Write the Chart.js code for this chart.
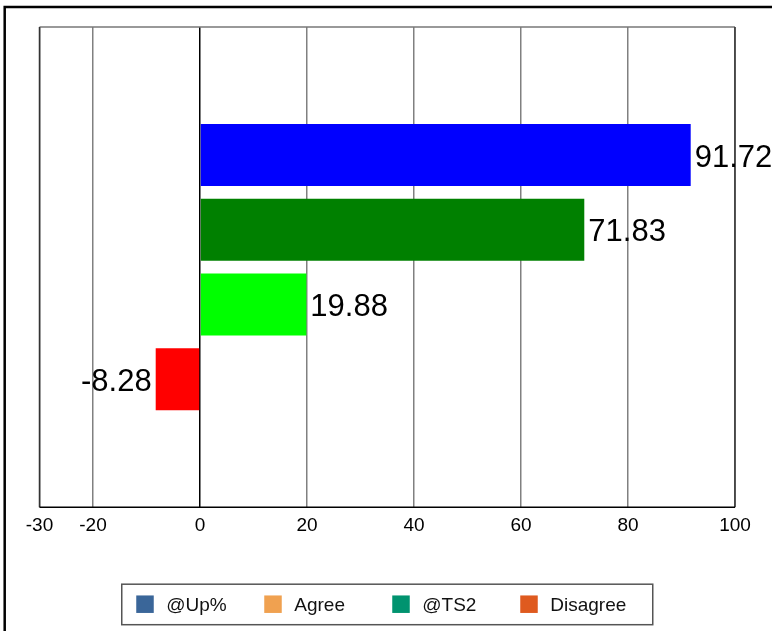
<!DOCTYPE html>
<html>
<head>
<meta charset="utf-8">
<script src="https://cdn.jsdelivr.net/npm/chart.js@4.4.1/dist/chart.umd.min.js"></script>
<style>
  body { margin: 0; background: #fff; }
  #wrap { width: 772px; height: 631px; position: relative; }
</style>
</head>
<body>
<div id="wrap"><canvas id="barChart" width="772" height="631"></canvas></div>
<script>
const categories   = [''];
const seriesNames  = ['@Up%', 'Agree', '@TS2', 'Disagree'];
const seriesValues = [91.72, 71.83, 19.88, -8.28];
const barColors    = ['#0000FF', '#008000', '#00FF00', '#FF0000'];
const legendColors = ['#3A6699', '#F0A150', '#00936F', '#DF5A1F'];
const xTicks       = [-30, -20, 0, 20, 40, 60, 80, 100];

const FONT = "Liberation Sans, Arial, sans-serif";

// outer frame + plot box
const framePlugin = {
    id: 'frame',
    beforeDraw(chart) {
        const ctx = chart.ctx;
        ctx.save();
        ctx.fillStyle = '#fff';
        ctx.fillRect(0, 0, chart.width, chart.height);
        ctx.strokeStyle = '#000';
        ctx.lineWidth = 2.5;
        ctx.strokeRect(4.7, 7, chart.width + 50, chart.height + 50);
        ctx.restore();
    },
    afterDatasetsDraw(chart) {
        const a = chart.chartArea;
        const ctx = chart.ctx;
        ctx.save();
        ctx.lineWidth = 1.5;
        ctx.strokeStyle = '#777';
        ctx.beginPath();
        ctx.moveTo(a.left, a.top); ctx.lineTo(a.right, a.top);
        ctx.stroke();
        ctx.strokeStyle = '#333';
        ctx.beginPath();
        ctx.moveTo(a.left, a.top); ctx.lineTo(a.left, a.bottom);
        ctx.moveTo(a.right, a.top); ctx.lineTo(a.right, a.bottom);
        ctx.stroke();
        ctx.strokeStyle = '#000';
        ctx.beginPath();
        ctx.moveTo(a.left, a.bottom); ctx.lineTo(a.right, a.bottom);
        ctx.stroke();
        ctx.restore();
    }
};

// value labels at bar ends
const valueLabels = {
    id: 'valueLabels',
    afterDatasetsDraw(chart) {
        const ctx = chart.ctx;
        ctx.save();
        ctx.font = "31px " + FONT;
        ctx.fillStyle = '#000';
        ctx.textBaseline = 'middle';
        chart.data.datasets.forEach((ds, i) => {
            const bar = chart.getDatasetMeta(i).data[0];
            const v = ds.data[0];
            if (v >= 0) {
                ctx.textAlign = 'left';
                ctx.fillText(v.toFixed(2), bar.x + 4, bar.y + 3);
            } else {
                ctx.textAlign = 'right';
                ctx.fillText(v.toFixed(2), bar.x - 4, bar.y + 3);
            }
        });
        ctx.restore();
    }
};

// boxed legend with fixed columns
const boxLegend = {
    id: 'boxLegend',
    afterDraw(chart) {
        const a = chart.chartArea;
        const ctx = chart.ctx;
        const colW = 128, boxW = 531, boxH = 40.5;
        const cx = (a.left + a.right) / 2;
        const left = cx - boxW / 2;
        const top = a.bottom + 77;
        ctx.save();
        ctx.fillStyle = '#fff';
        ctx.fillRect(left, top, boxW, boxH);
        ctx.strokeStyle = '#555';
        ctx.lineWidth = 1.5;
        ctx.strokeRect(left, top, boxW, boxH);
        ctx.font = "19px " + FONT;
        ctx.textBaseline = 'middle';
        ctx.textAlign = 'left';
        const midY = top + boxH / 2;
        seriesNames.forEach((name, i) => {
            const x = left + 14.5 + i * colW;
            ctx.fillStyle = legendColors[i];
            ctx.fillRect(x, midY - 9, 17.5, 17.5);
            ctx.fillStyle = '#111';
            ctx.fillText(name, x + 30, midY + 1);
        });
        ctx.restore();
    }
};

const datasets = seriesNames.map((name, i) => ({
    label: name,
    data: [seriesValues[i]],
    backgroundColor: barColors[i],
    borderWidth: 0,
    categoryPercentage: 0.6225,
    barPercentage: 0.83
}));

new Chart(document.getElementById('barChart'), {
    type: 'bar',
    data: { labels: categories, datasets: datasets },
    options: {
        indexAxis: 'y',
        responsive: false,
        animation: false,
        devicePixelRatio: 1,
        layout: { padding: { left: 39.5, right: 37, top: 27, bottom: 87 } },
        plugins: {
            legend: { display: false },
            tooltip: { enabled: false }
        },
        scales: {
            x: {
                min: -30,
                max: 100,
                afterBuildTicks: axis => { axis.ticks = xTicks.map(v => ({ value: v })); },
                grid: {
                    drawTicks: false,
                    lineWidth: 1.5,
                    color: c => c.tick && c.tick.value === 0 ? '#000' : '#808080'
                },
                border: { display: false },
                ticks: {
                    padding: 7,
                    color: '#000',
                    font: { family: FONT, size: 19 },
                    maxRotation: 0,
                    autoSkip: false
                }
            },
            y: {
                display: false,
                grid: { display: false }
            }
        }
    },
    plugins: [framePlugin, valueLabels, boxLegend]
});
</script>
</body>
</html>
